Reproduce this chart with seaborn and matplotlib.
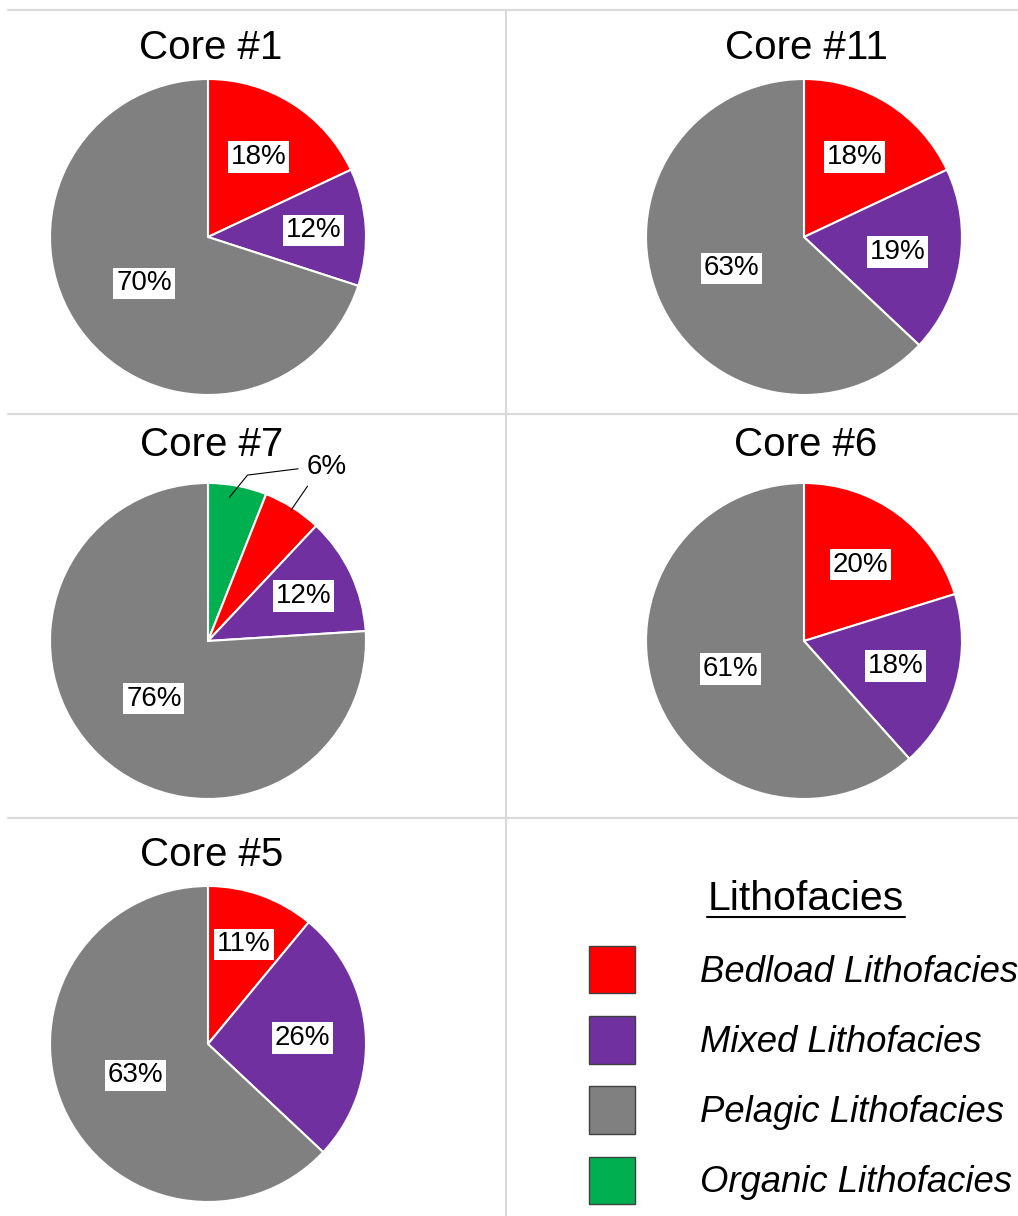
import matplotlib
matplotlib.use("Agg")
import matplotlib.pyplot as plt
from matplotlib.lines import Line2D
from matplotlib.patches import Patch
import numpy as np
import seaborn as sns

# Lithofacies proportions (%) per core, clockwise from 12 o'clock
categories = ["Bedload Lithofacies", "Mixed Lithofacies",
              "Pelagic Lithofacies", "Organic Lithofacies"]
cores = ["Core #1", "Core #11", "Core #7", "Core #6", "Core #5"]
core1 = [18, 12, 70]
core11 = [18, 19, 63]
core7 = [6, 6, 12, 76]          # organic, bedload, mixed, pelagic
core6 = [20, 18, 61]
core5 = [11, 26, 63]

sns.set_theme(style="white")
plt.rcParams["font.family"] = ["Liberation Sans", "DejaVu Sans"]
plt.rcParams["text.color"] = "black"

palette = sns.color_palette(["#FF0000", "#7030A0", "#808080", "#00B050"])
red, purple, gray, green = palette

W, H = 1018, 1216
fig = plt.figure(figsize=(W / 100, H / 100), dpi=100)
fig.patch.set_facecolor("white")

# light grid separating the panels (pixel coordinates, y from top)
def hline(y, x0=8, x1=W):
    fig.add_artist(Line2D([x0 / W, x1 / W], [1 - y / H, 1 - y / H],
                          transform=fig.transFigure, color="#D9D9D9", lw=1.5))

def vline(x, y0=10, y1=H):
    fig.add_artist(Line2D([x / W, x / W], [1 - y0 / H, 1 - y1 / H],
                          transform=fig.transFigure, color="#D9D9D9", lw=1.5))

hline(10)
hline(414)
hline(818)
vline(506)

R = 158
LIM = 1.3


def pie_axes(cx, cy):
    s = R * LIM
    ax = fig.add_axes([(cx - s) / W, 1 - (cy + s) / H, 2 * s / W, 2 * s / H])
    return ax


label_box = dict(boxstyle="square,pad=0.1", facecolor="white", edgecolor="none")


def draw_pie(ax, values, colors, hide_below=0):
    total = sum(values)

    def fmt(p):
        v = int(round(p * total / 100))
        return "" if v < hide_below else f"{v}%"

    wedges, _, autotexts = ax.pie(
        values, colors=colors, startangle=90, counterclock=False, radius=1,
        autopct=fmt, pctdistance=0.6,
        wedgeprops=dict(edgecolor="white", linewidth=1.5),
        textprops=dict(fontsize=20, color="black"))
    # largest slice label sits nearer the centre, narrow slices further out
    biggest = max(values)
    for w, t, v in zip(wedges, autotexts, values):
        if not t.get_text():
            continue
        t.set_bbox(label_box)
        r = 0.5 if v == biggest else (0.67 if v <= 12 else 0.6)
        mid = np.deg2rad((w.theta1 + w.theta2) / 2)
        t.set_position((r * np.cos(mid), r * np.sin(mid)))
    ax.set_xlim(-LIM, LIM)
    ax.set_ylim(-LIM, LIM)
    ax.set_aspect("equal")
    ax.axis("off")
    return wedges


def title(x, y, text):
    fig.text(x / W, 1 - y / H, text, fontsize=29, ha="center", va="baseline")


three = [red, purple, gray]

ax = pie_axes(208, 237)
draw_pie(ax, core1, three)
title(211, 59, cores[0])

ax = pie_axes(804, 237)
draw_pie(ax, core11, three)
title(806, 59, cores[1])

ax = pie_axes(208, 641)
w7 = draw_pie(ax, core7, [green, red, purple, gray], hide_below=8)
title(212, 456, cores[2])
# shared label for the two 6% slices, with leader lines
ax.text(0.75, 1.1, f"{core7[0]}%", fontsize=20, ha="center", va="center")
mg = np.deg2rad((w7[0].theta1 + w7[0].theta2) / 2)
mr = np.deg2rad((w7[1].theta1 + w7[1].theta2) / 2)
ax.plot([0.57, 0.25, 0.92 * np.cos(mg + 0.04)], [1.09, 1.05, 0.92 * np.sin(mg + 0.04)],
        color="black", lw=0.8)
ax.plot([0.63, 0.98 * np.cos(mr)], [0.98, 0.98 * np.sin(mr)],
        color="black", lw=0.8)

ax = pie_axes(804, 641)
draw_pie(ax, core6, three)
title(806, 456, cores[3])

ax = pie_axes(208, 1044)
draw_pie(ax, core5, three)
title(212, 866, cores[4])

# legend
fig.text(806 / W, 1 - 910 / H, "Lithofacies", fontsize=29.5, ha="center", va="baseline")
fig.add_artist(Line2D([707 / W, 905 / W], [1 - 917 / H, 1 - 917 / H],
                      transform=fig.transFigure, color="black", lw=1.5))

handles = [Patch(facecolor=c, edgecolor="#3F3F3F", linewidth=1.0)
           for c in [red, purple, gray, green]]
fs = 26.3
fpx = fs * 100 / 72
fig.legend(handles, categories, loc="upper left",
           bbox_to_anchor=(589 / W, 1 - 946 / H), bbox_transform=fig.transFigure,
           frameon=False, borderpad=0, borderaxespad=0,
           handlelength=46 / fpx, handleheight=1.62,
           handletextpad=(700 - 635) / fpx, labelspacing=0.625,
           prop=dict(size=fs, style="italic"))

fig.savefig("out.png", dpi=100, facecolor="white")
